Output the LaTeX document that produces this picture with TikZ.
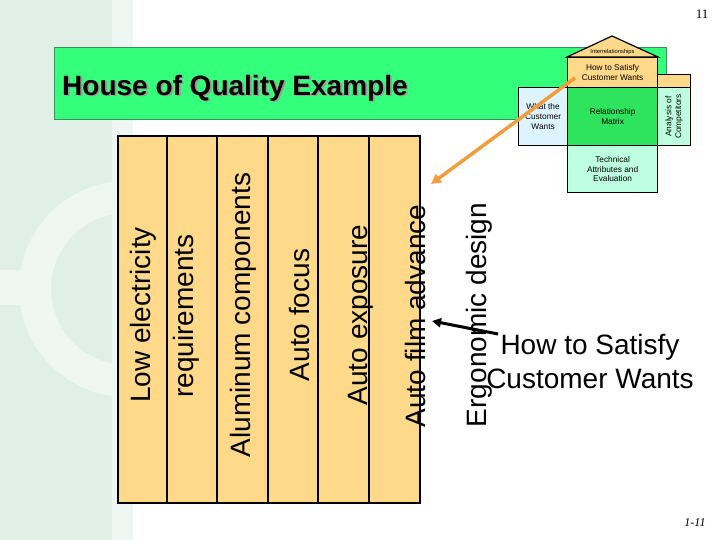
\documentclass[tikz,border=0pt]{standalone}
\usepackage{fontspec}
\setmainfont{Liberation Sans}
\newfontfamily\seriffont{Liberation Serif}
\usetikzlibrary{arrows.meta,calc}
\definecolor{bgstripe}{HTML}{E1F0E6}
\definecolor{bglight}{HTML}{EFF7F2}
\definecolor{titlegreen}{HTML}{33FF7A}
\definecolor{titleedge}{HTML}{3D8C5C}
\definecolor{tanfill}{HTML}{FFD98A}
\definecolor{relgreen}{HTML}{2EE35E}
\definecolor{mintfill}{HTML}{BDFFE0}
\definecolor{palebluefill}{HTML}{DDF4FF}
\definecolor{arroworange}{HTML}{F39C3C}
\tikzset{
  tablebox/.style={draw=black, fill=tanfill, line width=2pt, anchor=north west,
    minimum width=302pt, minimum height=367pt, inner sep=0pt},
  colline/.style={draw=black, line width=2pt},
  vtext/.style={rotate=90, anchor=base, inner sep=0pt, font=\fontsize{28}{34}\selectfont},
  hbox/.style={draw=black, line width=1.2pt, anchor=north west, inner sep=0pt, align=center,
    font=\fontsize{8.3}{9.6}\selectfont},
}
\begin{document}
\begin{tikzpicture}[x=1pt,y=-1pt]
\useasboundingbox (0,0) rectangle (720,540);
\fill[white] (0,0) rectangle (720,540);
% background decoration
\fill[bgstripe] (0,0) rectangle (112,540);
\fill[bglight] (112,0) rectangle (133,540);
\begin{scope}
  \clip (0,0) rectangle (112,540);
  \fill[bglight, even odd rule] (127,289) circle (108pt) (127,289) circle (76pt);
  \fill[bglight] (0,270) rectangle (22,305);
\end{scope}
% title bar
\node[draw=titleedge, fill=titlegreen, line width=1pt, anchor=north west,
      minimum width=612pt, minimum height=72pt, inner sep=0pt] (titlebar) at (54,47) {};
\node[anchor=base west, inner sep=0pt, text=black!40, font=\fontsize{28}{34}\selectfont\bfseries]
  (titleshadow) at (63.8,97) {House of Quality Example};
\node[anchor=base west, inner sep=0pt, font=\fontsize{28}{34}\selectfont\bfseries]
  (title) at (62,95.2) {House of Quality Example};
% table with six columns
\node[tablebox] (tbl) at (117,135) {};
\foreach \dx in {50,100,151,201,252}{
  \draw[colline] ($(tbl.north west)+(\dx,0)$) -- ($(tbl.south west)+(\dx,0)$);
}
% column texts
\node[vtext] (t1) at (150,315) {Low electricity};
\node[vtext] (t2) at (193,316) {requirements};
\node[vtext] (t3) at (250,315) {Aluminum components};
\node[vtext] (t4) at (309,315) {Auto focus};
\node[vtext] (t5) at (367,315) {Auto exposure};
\node[vtext] (t6) at (425,316) {Auto film advance};
\node[vtext] (t7) at (486,315) {Ergonomic design};
% label and black arrow
\node[align=center, inner sep=0pt, font=\fontsize{28}{34}\selectfont] (howlabel) at (590,361)
  {How to Satisfy\\Customer Wants};
\coordinate (blackstart) at (498,334);
\coordinate (blackend) at (432,321);
\draw[line width=3pt, -{Triangle[length=9pt,width=9pt]}] (blackstart) -- (blackend);
% small house of quality
\draw[fill=tanfill, line width=1.2pt] (567,57) -- (612,36) -- (658,57) -- cycle;
\node[inner sep=0pt, font=\fontsize{5.8}{6.5}\selectfont] (interrel) at (612.5,52) {Interrelationships};
\node[hbox, fill=tanfill, minimum width=90pt, minimum height=30pt] (howbox) at (567,57)
  {How to Satisfy\\Customer Wants};
\node[hbox, fill=tanfill, minimum width=33pt, minimum height=13pt] (corner) at (657,74) {};
\node[hbox, fill=palebluefill, minimum width=49pt, minimum height=58pt] (whatbox) at (518,87)
  {What the\\Customer\\Wants};
\node[hbox, fill=relgreen, minimum width=90pt, minimum height=58pt] (relbox) at (567,87)
  {Relationship\\Matrix};
\node[hbox, fill=mintfill, minimum width=33pt, minimum height=58pt] (compbox) at (657,87) {};
\node[rotate=90, align=center, inner sep=0pt, font=\fontsize{8.3}{9.6}\selectfont] (comptext)
  at (compbox.center) {Analysis of\\Competitors};
\node[hbox, fill=mintfill, minimum width=90pt, minimum height=47pt] (techbox) at (567,145)
  {Technical\\Attributes and\\Evaluation};
% orange arrow
\coordinate (orangestart) at (575,78);
\coordinate (orangeend) at (431,184);
\draw[arroworange, line width=3.5pt, -{Triangle[length=10pt,width=10pt]}] (orangestart) -- (orangeend);
% page numbers
\node[inner sep=0pt, font=\seriffont\fontsize{13}{15}\selectfont] (pagenum) at (702,14) {11};
\node[inner sep=0pt, font=\seriffont\itshape\fontsize{12}{14}\selectfont] (slidenum) at (695,523) {1-11};
\end{tikzpicture}
\end{document}
